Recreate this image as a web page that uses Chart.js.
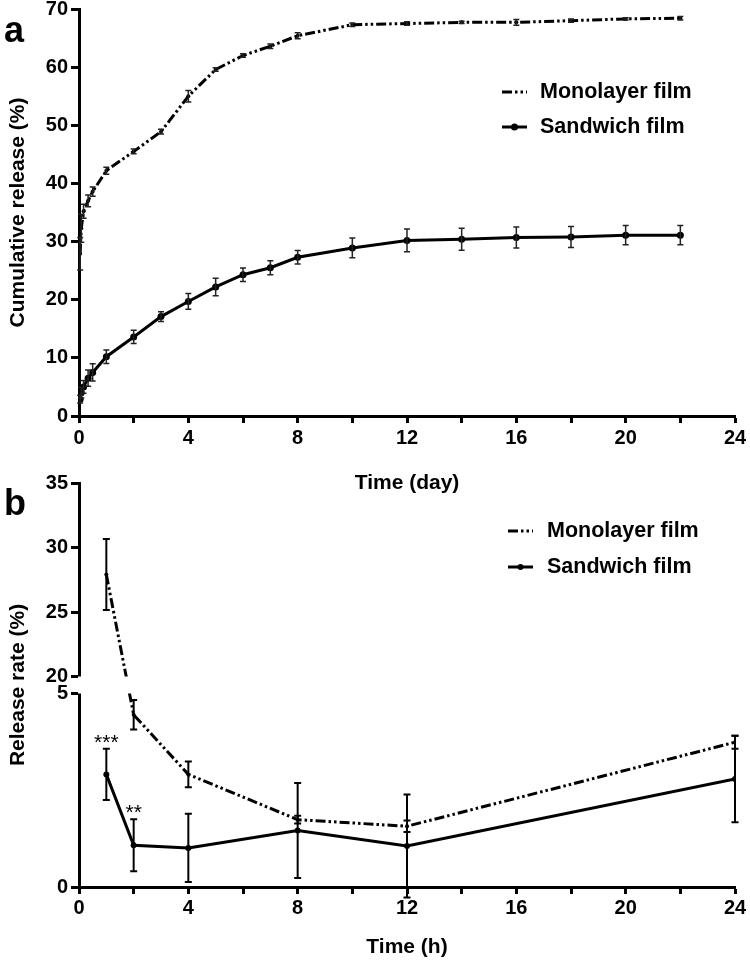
<!DOCTYPE html>
<html><head><meta charset="utf-8">
<script src="https://cdn.jsdelivr.net/npm/chart.js@4/dist/chart.umd.min.js"></script>
<style>
html,body{margin:0;padding:0;background:#fff;width:750px;height:968px;overflow:hidden;position:relative}
canvas{position:absolute;left:0}
#ca{top:-10px}
#cb{top:468px}
</style></head><body>
<canvas id="ca" width="750" height="510"></canvas>
<canvas id="cb" width="750" height="500"></canvas>
<script>
// ---------- data ----------
const seriesNames = ['Monolayer film', 'Sandwich film'];
// Panel a: cumulative release vs time (day)
const daysA = [0.042, 0.083, 0.167, 0.333, 0.5, 1, 2, 3, 4, 5, 6, 7, 8, 10, 12, 14, 16, 18, 20, 22];
const monoCum    = [27.9, 32.3, 35.2, 37.0, 38.6, 42.2, 45.5, 48.9, 55.0, 59.6, 62.0, 63.6, 65.4, 67.3, 67.5, 67.7, 67.7, 68.0, 68.3, 68.4];
const monoCumErr = [2.8, 2.4, 1.2, 1.0, 0.8, 0.6, 0.4, 0.4, 1.0, 0.3, 0.3, 0.4, 0.5, 0.3, 0.3, 0.2, 0.5, 0.3, 0.2, 0.3];
const sandCum    = [2.9, 4.0, 5.0, 6.5, 7.5, 10.2, 13.6, 17.1, 19.7, 22.2, 24.3, 25.5, 27.3, 28.9, 30.2, 30.4, 30.7, 30.8, 31.1, 31.1];
const sandCumErr = [0.66, 0.9, 1.1, 1.4, 1.5, 1.15, 1.15, 0.85, 1.35, 1.5, 1.15, 1.2, 1.15, 1.7, 1.95, 1.9, 1.8, 1.8, 1.65, 1.65];
const xTicksA = [0, 2, 4, 6, 8, 10, 12, 14, 16, 18, 20, 22, 24];
const xLabelsA = [0, 4, 8, 12, 16, 20, 24];
const yTicksA = [0, 10, 20, 30, 40, 50, 60, 70];
// Panel b: release rate vs time (h)
const hoursB = [1, 2, 4, 8, 12, 24];
const monoRate    = [27.9, 4.45, 2.91, 1.74, 1.57, 3.74];
const monoRateErr = [2.75, 0.38, 0.33, 0.10, 0.15, 0.17];
const sandRate    = [2.91, 1.08, 1.01, 1.46, 1.06, 2.79];
const sandRateErr = [0.66, 0.67, 0.88, 1.23, 1.33, 1.12];
const sigB = ['***', '**', '', '', '', ''];
const xTicksB = [0, 2, 4, 6, 8, 10, 12, 14, 16, 18, 20, 22, 24];
const xLabelsB = [0, 4, 8, 12, 16, 20, 24];
const yTicksB = [0, 5, 20, 25, 30, 35];
const yBreakB = [5, 20];

// ---------- setup ----------
const FONT = "'Liberation Sans', Arial, sans-serif";
Chart.defaults.font.family = FONT;
Chart.defaults.font.weight = 'bold';
Chart.defaults.color = '#000';

class BrokenScale extends Chart.LinearScale {
  _seg() {
    const gap = this.options.gapPx;
    const h = (this.bottom - this.top - gap) / 2;
    return {gap, h, gapTop: this.top + h, gapBottom: this.top + h + gap};
  }
  getPixelForValue(v) {
    const {gap, h, gapBottom} = this._seg();
    const lo = yBreakB[0], hi = yBreakB[1];
    if (v <= lo) return this.bottom - (v - this.min) / (lo - this.min) * h;
    if (v >= hi) return this.top + (this.max - v) / (this.max - hi) * h;
    return gapBottom - (v - lo) / (hi - lo) * gap;
  }
  getValueForPixel(p) {
    const {gap, h, gapTop, gapBottom} = this._seg();
    const lo = yBreakB[0], hi = yBreakB[1];
    if (p >= gapBottom) return this.min + (this.bottom - p) / h * (lo - this.min);
    if (p <= gapTop) return this.max - (p - this.top) / h * (this.max - hi);
    return lo + (gapBottom - p) / gap * (hi - lo);
  }
  drawBorder() {
    const {gapTop, gapBottom} = this._seg();
    const ctx = this.ctx, c = this.chart;
    ctx.save();
    ctx.beginPath();
    ctx.rect(0, 0, c.width, gapTop);
    ctx.rect(0, gapBottom, c.width, c.height - gapBottom);
    ctx.clip();
    super.drawBorder();
    ctx.restore();
  }
}
BrokenScale.id = 'brokenLinear';
BrokenScale.defaults = {};
Chart.register(BrokenScale);

const errPlugin = {
  id: 'errbars',
  beforeDatasetsDraw(chart, args, o) {
    const ctx = chart.ctx;
    ctx.save();
    const ys = chart.scales.y;
    if (ys && ys._seg) {
      const {gapTop, gapBottom} = ys._seg();
      ctx.beginPath();
      ctx.rect(0, 0, chart.width, gapTop);
      ctx.rect(0, gapBottom, chart.width, chart.height - gapBottom);
      ctx.clip();
    }
  },
  afterDatasetsDraw(chart, args, o) {
    const ctx = chart.ctx;
    chart.data.datasets.forEach((ds, di) => {
      const meta = chart.getDatasetMeta(di);
      const xs = chart.scales[meta.xAxisID], ys = chart.scales[meta.yAxisID];
      ctx.save();
      ctx.strokeStyle = o.color; ctx.lineWidth = o.width; ctx.setLineDash([]);
      ds.data.forEach((p, i) => {
        const e = ds.errors ? ds.errors[i] : 0;
        if (!e) return;
        const x = xs.getPixelForValue(p.x);
        const y1 = ys.getPixelForValue(p.y + e), y2 = ys.getPixelForValue(p.y - e);
        ctx.beginPath();
        ctx.moveTo(x, y1); ctx.lineTo(x, y2);
        ctx.moveTo(x - o.cap, y1); ctx.lineTo(x + o.cap, y1);
        ctx.moveTo(x - o.cap, y2); ctx.lineTo(x + o.cap, y2);
        ctx.stroke();
      });
      if (ds.sig) {
        ctx.fillStyle = '#000';
        ctx.font = 'normal ' + o.sigSize + 'px ' + FONT;
        ctx.textAlign = 'center'; ctx.textBaseline = 'alphabetic';
        ds.data.forEach((p, i) => {
          if (!ds.sig[i]) return;
          const x = xs.getPixelForValue(p.x);
          const y = ys.getPixelForValue(p.y + (ds.errors ? ds.errors[i] : 0));
          ctx.fillText(ds.sig[i], x, y + o.sigOffset);
        });
      }
      ctx.restore();
    });
    ctx.restore();
  }
};

const legendPlugin = {
  id: 'innerLegend',
  afterDraw(chart, args, o) {
    const ctx = chart.ctx;
    chart.data.datasets.forEach((ds, i) => {
      const y = o.y + i * o.gap;
      ctx.save();
      ctx.strokeStyle = ds.borderColor; ctx.lineWidth = ds.borderWidth;
      ctx.setLineDash(ds.borderDash || []);
      ctx.beginPath(); ctx.moveTo(o.x, y); ctx.lineTo(o.x + o.sample, y); ctx.stroke();
      if (ds.pointRadius > 2.5) {
        ctx.setLineDash([]); ctx.fillStyle = ds.backgroundColor;
        ctx.beginPath(); ctx.arc(o.x + o.sample / 2, y, ds.pointRadius, 0, Math.PI * 2); ctx.fill();
      }
      ctx.fillStyle = '#000';
      ctx.font = 'bold ' + o.size + 'px ' + FONT;
      ctx.textBaseline = 'middle'; ctx.textAlign = 'left';
      ctx.fillText(ds.label, o.textX, y);
      ctx.restore();
    });
  }
};

const letterPlugin = {
  id: 'panelLetter',
  afterDraw(chart, args, o) {
    const ctx = chart.ctx;
    ctx.save();
    ctx.fillStyle = '#000';
    ctx.font = 'bold ' + o.size + 'px ' + FONT;
    ctx.textAlign = 'left'; ctx.textBaseline = 'alphabetic';
    ctx.fillText(o.text, o.x, o.y);
    ctx.restore();
  }
};

const monoStyle = {borderColor: '#000', backgroundColor: '#000', borderWidth: 3,
  borderDash: [10, 3, 2.5, 3, 2.5, 3], pointRadius: 2, pointBorderWidth: 0, tension: 0};
const sandStyle = {borderColor: '#000', backgroundColor: '#000', borderWidth: 3,
  pointRadius: 3.5, pointBorderWidth: 0, tension: 0};

function axisCommon(tickLen) {
  return {
    grid: {drawOnChartArea: false, drawTicks: true, tickLength: tickLen, tickWidth: 3, tickColor: '#000'},
    border: {display: true, width: 3, color: '#000'}
  };
}

// ---------- panel a ----------
new Chart(document.getElementById('ca'), {
  type: 'line',
  data: {datasets: [
    Object.assign({label: seriesNames[0], data: daysA.map((x, i) => ({x, y: monoCum[i]})), errors: monoCumErr}, monoStyle),
    Object.assign({label: seriesNames[1], data: daysA.map((x, i) => ({x, y: sandCum[i]})), errors: sandCumErr}, sandStyle)
  ]},
  options: {
    responsive: false, animation: false,
    layout: {padding: {left: 0, right: 15, top: 19, bottom: 0}},
    plugins: {
      legend: {display: false}, tooltip: {enabled: false},
      errbars: {color: '#222', width: 1.5, cap: 3},
      innerLegend: {x: 502, y: 102, gap: 35, sample: 25, textX: 540, size: 21.5},
      panelLetter: {text: 'a', x: 4, y: 52, size: 36}
    },
    scales: {
      x: Object.assign({
        type: 'linear', min: 0, max: 24,
        afterBuildTicks: s => { s.ticks = xTicksA.map(v => ({value: v})); },
        ticks: {autoSkip: false, maxRotation: 0, padding: 3, font: {size: 20},
          callback: v => xLabelsA.includes(v) ? String(v) : ''},
        title: {display: true, text: 'Time (day)', font: {size: 21}, padding: {top: 0, bottom: 4}},
        afterFit: s => { s.height = 84; }
      }, axisCommon(7)),
      y: Object.assign({
        type: 'linear', min: 0, max: 70,
        afterBuildTicks: s => { s.ticks = yTicksA.map(v => ({value: v})); },
        ticks: {autoSkip: false, padding: 3, font: {size: 20}},
        title: {display: true, text: 'Cumulative release (%)', font: {size: 21}, padding: {top: 6, bottom: 0}},
        afterFit: s => { s.width = 79; }
      }, axisCommon(8))
    }
  },
  plugins: [errPlugin, legendPlugin, letterPlugin]
});

// ---------- panel b ----------
new Chart(document.getElementById('cb'), {
  type: 'line',
  data: {datasets: [
    Object.assign({label: seriesNames[0], data: hoursB.map((x, i) => ({x, y: monoRate[i]})), errors: monoRateErr}, monoStyle),
    Object.assign({label: seriesNames[1], data: hoursB.map((x, i) => ({x, y: sandRate[i]})), errors: sandRateErr, sig: sigB}, sandStyle, {pointRadius: 3})
  ]},
  options: {
    responsive: false, animation: false,
    layout: {padding: {left: 0, right: 15, top: 12, bottom: 0}},
    plugins: {
      legend: {display: false}, tooltip: {enabled: false},
      errbars: {color: '#000', width: 2, cap: 3.5, sigSize: 21, sigOffset: 0},
      innerLegend: {x: 508, y: 63, gap: 36, sample: 25, textX: 547, size: 21.5},
      panelLetter: {text: 'b', x: 4, y: 47, size: 36}
    },
    scales: {
      x: Object.assign({
        type: 'linear', min: 0, max: 24,
        afterBuildTicks: s => { s.ticks = xTicksB.map(v => ({value: v})); },
        ticks: {autoSkip: false, maxRotation: 0, padding: 2, font: {size: 20},
          callback: v => xLabelsB.includes(v) ? String(v) : ''},
        title: {display: true, text: 'Time (h)', font: {size: 21}, padding: {top: 0, bottom: 8}},
        afterFit: s => { s.height = 81; }
      }, axisCommon(7)),
      y: Object.assign({
        type: 'brokenLinear', min: 0, max: 35, gapPx: 17,
        afterBuildTicks: s => { s.ticks = yTicksB.map(v => ({value: v})); },
        ticks: {autoSkip: false, padding: 3, font: {size: 20}},
        title: {display: true, text: 'Release rate (%)', font: {size: 21}, padding: {top: 6, bottom: 0}},
        afterFit: s => { s.width = 79; }
      }, axisCommon(8))
    }
  },
  plugins: [errPlugin, legendPlugin, letterPlugin]
});
</script>
</body></html>
